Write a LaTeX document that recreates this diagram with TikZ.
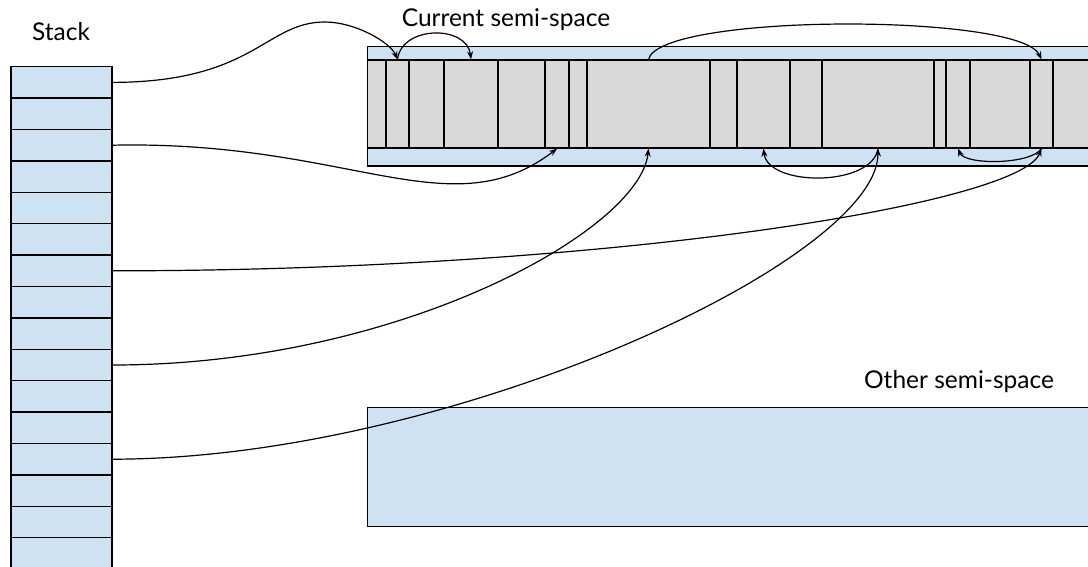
\documentclass[tikz,border=0pt]{standalone}
\usepackage{fontspec}
\setmainfont{Lato}
\usetikzlibrary{arrows.meta}
\definecolor{slot}{HTML}{CFE2F3}
\definecolor{heap}{HTML}{D9D9D9}
\tikzset{
  box/.style={draw=black, line width=1.3pt},
  cell/.style={box, fill=slot, minimum width=101pt, minimum height=31.4pt, inner sep=0pt},
  obj/.style={box, fill=heap, minimum height=88pt, inner sep=0pt},
  ptr/.style={draw=black, line width=1.2pt, -{Stealth[length=8pt,width=6pt]}},
  lab/.style={font=\fontsize{24.5}{29}\selectfont, anchor=base, inner sep=0pt},
}

\begin{document}
\begin{tikzpicture}[x=1pt,y=-1pt]
  \path[use as bounding box, clip] (0,0) rectangle (1088,566);
  % stack frames
  \foreach \i in {0,...,15}
    \node[cell] (s\i) at (61.5,{66.7+31.4*(\i+0.5)}) {};
  \node[lab] (stack) at (61,40) {Stack};
  % current semi-space and the objects in it
  \draw[box,fill=slot] (367.5,46.7) rectangle (1100,166);
  \foreach \n/\l/\r in {1/367.5/386, 2/386/409, 3/409/444, 4/444/498, 5/498/545,
      6/545/569, 7/569/587, 8/587/710, 9/710/737, 10/737/790, 11/790/822,
      12/822/934, 13/934/946, 14/946/970, 15/970/1030, 16/1030/1053, 17/1053/1100}
    \node[obj, minimum width={\r-\l}] (o\n) at ({(\l+\r)/2},104) {};
  \node[lab] (cur) at (506,26.7) {Current semi-space};
  % other semi-space
  \draw[box,fill=slot] (367.5,407.3) rectangle (1100,526.7);
  \node[lab] (other) at (959,388.3) {Other semi-space};
  % pointers between objects
  \draw[ptr] (o2.north) .. controls (402,25) and (467,25) .. (o4.north);
  \draw[ptr] (o8.north) .. controls (660,13) and (1020,13) .. (o16.north);
  \draw[ptr] (o12.south) .. controls (872,187) and (768,187) .. (o10.south);
  \draw[ptr] (o16.south) .. controls (1030,165) and (965,165) .. (o14.south);
  % roots on the stack
  \draw[ptr] (s0.east) .. controls (255,82) and (265,22) .. (325,22)
    .. controls (355,22) and (390,42) .. (o2.north);
  \draw[ptr] (s2.east) .. controls (350,140) and (450,230) .. (o6.south);
  \draw[ptr] (s6.east) .. controls (600,271) and (1020,205) .. (o16.south);
  \draw[ptr] (s9.east) .. controls (400,365) and (640,230) .. (o8.south);
  \draw[ptr] (s12.east) .. controls (450,459) and (878,260) .. (o12.south);
\end{tikzpicture}
\end{document}
